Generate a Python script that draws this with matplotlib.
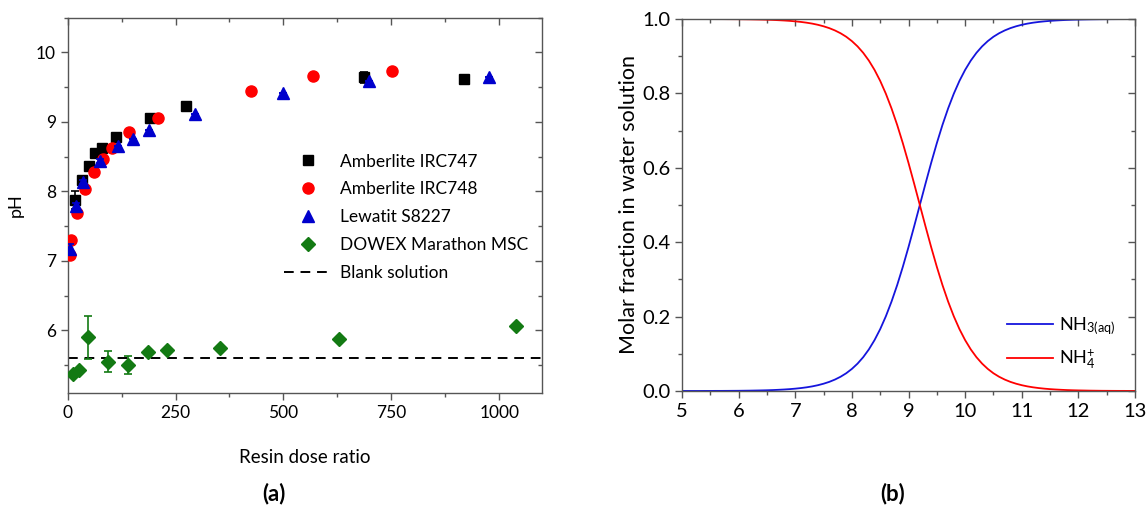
import matplotlib
matplotlib.use("Agg")
import matplotlib.pyplot as plt
from matplotlib.ticker import MultipleLocator, FormatStrFormatter
from matplotlib.lines import Line2D, TICKDOWN, TICKLEFT

plt.rcParams['font.family'] = ['Lato', 'DejaVu Sans']
plt.rcParams['mathtext.fontset'] = 'custom'
plt.rcParams['mathtext.rm'] = 'Lato'
plt.rcParams['mathtext.default'] = 'regular'

# ---------------- Panel (a) data ----------------
irc747_x = [17, 33, 50, 64, 80, 113, 191, 274, 687, 918]
irc747_y = [7.88, 8.17, 8.36, 8.55, 8.63, 8.79, 9.05, 9.23, 9.64, 9.62]
irc747_err = [0.13, 0.0, 0.0, 0.03, 0.0, 0.0, 0.0, 0.0, 0.08, 0.0]

irc748_x = [6, 8, 21, 41, 62, 82, 102, 143, 209, 426, 569, 751]
irc748_y = [7.08, 7.30, 7.69, 8.04, 8.28, 8.47, 8.62, 8.86, 9.06, 9.45, 9.66, 9.73]
irc748_err = [0.03, 0.04, 0.0, 0.0, 0.0, 0.0, 0.0, 0.0, 0.0, 0.0, 0.0, 0.0]

s8227_x = [5, 19, 35, 76, 116, 151, 189, 294, 498, 698, 976]
s8227_y = [7.17, 7.79, 8.13, 8.44, 8.65, 8.76, 8.88, 9.11, 9.42, 9.59, 9.64]
s8227_err = [0.08, 0.05, 0.03, 0.03, 0.0, 0.0, 0.0, 0.0, 0.0, 0.0, 0.0]

msc_x = [12, 27, 48, 93, 140, 185, 231, 354, 628, 1038]
msc_y = [5.37, 5.43, 5.90, 5.55, 5.50, 5.69, 5.72, 5.75, 5.87, 6.07]
msc_err = [0.0, 0.0, 0.31, 0.155, 0.13, 0.02, 0.0, 0.0, 0.0, 0.0]

blank_ph = 5.60

series_labels = ['Amberlite IRC747', 'Amberlite IRC748', 'Lewatit S8227',
                 'DOWEX Marathon MSC', 'Blank solution']

# ---------------- Panel (b) data ----------------
ph_values = [5.0, 5.1, 5.2, 5.3, 5.4, 5.5, 5.6, 5.7, 5.8, 5.9,
             6.0, 6.1, 6.2, 6.3, 6.4, 6.5, 6.6, 6.7, 6.8, 6.9,
             7.0, 7.1, 7.2, 7.3, 7.4, 7.5, 7.6, 7.7, 7.8, 7.9,
             8.0, 8.1, 8.2, 8.3, 8.4, 8.5, 8.6, 8.7, 8.8, 8.9,
             9.0, 9.1, 9.2, 9.3, 9.4, 9.5, 9.6, 9.7, 9.8, 9.9,
             10.0, 10.1, 10.2, 10.3, 10.4, 10.5, 10.6, 10.7, 10.8, 10.9,
             11.0, 11.1, 11.2, 11.3, 11.4, 11.5, 11.6, 11.7, 11.8, 11.9,
             12.0, 12.1, 12.2, 12.3, 12.4, 12.5, 12.6, 12.7, 12.8, 12.9,
             13.0]
nh3_fraction = [0.0001, 0.0001, 0.0001, 0.0001, 0.0002, 0.0002, 0.0003, 0.0003, 0.0004, 0.0005,
                0.0006, 0.0008, 0.0010, 0.0013, 0.0016, 0.0020, 0.0025, 0.0032, 0.0040, 0.0050,
                0.0063, 0.0079, 0.0099, 0.0124, 0.0156, 0.0196, 0.0245, 0.0307, 0.0383, 0.0477,
                0.0594, 0.0736, 0.0909, 0.1118, 0.1368, 0.1663, 0.2008, 0.2403, 0.2847, 0.3339,
                0.3869, 0.4427, 0.5000, 0.5573, 0.6131, 0.6661, 0.7153, 0.7597, 0.7992, 0.8337,
                0.8632, 0.8882, 0.9091, 0.9264, 0.9406, 0.9523, 0.9617, 0.9693, 0.9755, 0.9804,
                0.9844, 0.9876, 0.9901, 0.9921, 0.9937, 0.9950, 0.9960, 0.9968, 0.9975, 0.9980,
                0.9984, 0.9987, 0.9990, 0.9992, 0.9994, 0.9995, 0.9996, 0.9997, 0.9997, 0.9998,
                0.9998]
nh4_fraction = [0.9999, 0.9999, 0.9999, 0.9999, 0.9998, 0.9998, 0.9997, 0.9997, 0.9996, 0.9995,
                0.9994, 0.9992, 0.9990, 0.9987, 0.9984, 0.9980, 0.9975, 0.9968, 0.9960, 0.9950,
                0.9937, 0.9921, 0.9901, 0.9876, 0.9844, 0.9804, 0.9755, 0.9693, 0.9617, 0.9523,
                0.9406, 0.9264, 0.9091, 0.8882, 0.8632, 0.8337, 0.7992, 0.7597, 0.7153, 0.6661,
                0.6131, 0.5573, 0.5000, 0.4427, 0.3869, 0.3339, 0.2847, 0.2403, 0.2008, 0.1663,
                0.1368, 0.1118, 0.0909, 0.0736, 0.0594, 0.0477, 0.0383, 0.0307, 0.0245, 0.0196,
                0.0156, 0.0124, 0.0099, 0.0079, 0.0063, 0.0050, 0.0040, 0.0032, 0.0025, 0.0020,
                0.0016, 0.0013, 0.0010, 0.0008, 0.0006, 0.0005, 0.0004, 0.0003, 0.0003, 0.0002,
                0.0002]

W, H = 1148, 509
fig = plt.figure(figsize=(W / 100, H / 100), dpi=100)

spine_col = '#555555'

def style_axes(ax, labelsize):
    for s in ax.spines.values():
        s.set_color(spine_col)
        s.set_linewidth(1.0)
    ax.tick_params(which='both', color=spine_col, labelsize=labelsize, labelcolor='black',
                   direction='out', top=True, right=True)
    ax.tick_params(which='major', length=5, width=1.0)
    ax.tick_params(which='minor', length=3, width=1.0)

def mirror_inward(ax):
    for tick in ax.xaxis.get_major_ticks() + ax.xaxis.get_minor_ticks():
        tick.tick2line.set_marker(TICKDOWN)
    for tick in ax.yaxis.get_major_ticks() + ax.yaxis.get_minor_ticks():
        tick.tick2line.set_marker(TICKLEFT)

c747, c748, c8227, cmsc = 'black', '#ff0000', '#0000cc', '#137a13'
m747 = dict(marker='s', markersize=7)
m748 = dict(marker='o', markersize=8)
m8227 = dict(marker='^', markersize=8.5)
mmsc = dict(marker='D', markersize=7.5)

# ---- Panel (a) ----
axa = fig.add_axes([67.7 / W, 1 - 393 / H, (542.3 - 67.7) / W, (393 - 17.7) / H])
style_axes(axa, 12.5)

ekw = dict(linestyle='none', capsize=3, elinewidth=1.2, capthick=1.2)
axa.errorbar(msc_x, msc_y, yerr=msc_err, color=cmsc, ecolor=cmsc, zorder=3, **mmsc, **ekw)
axa.errorbar(irc747_x, irc747_y, yerr=irc747_err, color=c747, ecolor=c747, zorder=4, **m747, **ekw)
axa.errorbar(irc748_x, irc748_y, yerr=irc748_err, color=c748, ecolor=c748, zorder=5, **m748, **ekw)
axa.errorbar(s8227_x, s8227_y, yerr=s8227_err, color=c8227, ecolor=c8227, zorder=6, **m8227, **ekw)
axa.axhline(blank_ph, color='black', linestyle=(0, (5, 3.5)), linewidth=1.4, zorder=2)

axa.set_xlim(0, 1100)
axa.set_ylim(5.1, 10.5)
axa.xaxis.set_major_locator(MultipleLocator(250))
axa.xaxis.set_minor_locator(MultipleLocator(125))
axa.yaxis.set_major_locator(MultipleLocator(1))
axa.yaxis.set_minor_locator(MultipleLocator(0.5))
axa.set_xlabel('Resin dose ratio', fontsize=13.5, labelpad=20)
axa.set_ylabel('pH', fontsize=13, labelpad=9)

handles = [
    Line2D([], [], linestyle='none', color=c747, **m747),
    Line2D([], [], linestyle='none', color=c748, **m748),
    Line2D([], [], linestyle='none', color=c8227, **m8227),
    Line2D([], [], linestyle='none', color=cmsc, **mmsc),
    Line2D([], [], color='black', linestyle=(0, (5, 3.5)), linewidth=1.4),
]
axa.legend(handles, series_labels, loc='upper left',
           bbox_to_anchor=(0.455, 0.638), frameon=False, fontsize=12.5,
           handlelength=2.8, handletextpad=0.45, labelspacing=0.68, borderpad=0,
           borderaxespad=0)
mirror_inward(axa)

# ---- Panel (b) ----
axb = fig.add_axes([682 / W, 1 - 391 / H, 453 / W, 372 / H])
style_axes(axb, 14.5)
axb.plot(ph_values, nh3_fraction, color='#1515dd', linewidth=1.3, label='NH$_{3(aq)}$')
axb.plot(ph_values, nh4_fraction, color='#ff0000', linewidth=1.3, label='NH$_4^{+}$')
axb.set_xlim(5, 13)
axb.set_ylim(0, 1)
axb.xaxis.set_major_locator(MultipleLocator(1))
axb.xaxis.set_minor_locator(MultipleLocator(0.5))
axb.yaxis.set_major_locator(MultipleLocator(0.2))
axb.yaxis.set_minor_locator(MultipleLocator(0.1))
axb.yaxis.set_major_formatter(FormatStrFormatter('%.1f'))
axb.set_ylabel('Molar fraction in water solution', fontsize=15.5, labelpad=2)
axb.legend(loc='lower right', bbox_to_anchor=(1.0, 0.0), frameon=False, fontsize=13,
           handlelength=2.55, handletextpad=0.3, labelspacing=0.6, borderpad=0.6)
mirror_inward(axb)

fig.text(274 / W, 1 - 494 / H, '(a)', fontsize=16, fontweight='bold', ha='center', va='center')
fig.text(893 / W, 1 - 494 / H, '(b)', fontsize=16, fontweight='bold', ha='center', va='center')

fig.savefig('out.png', dpi=100)
